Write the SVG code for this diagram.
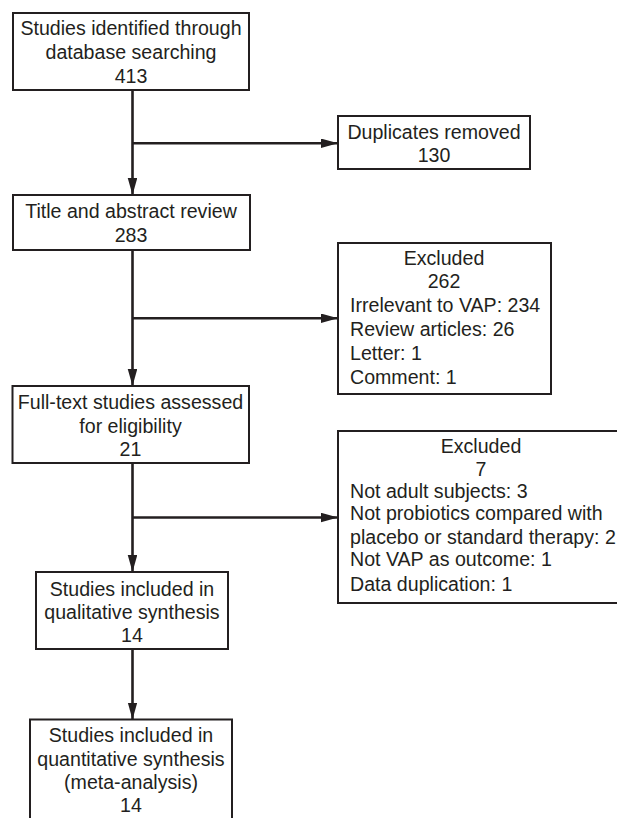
<svg xmlns="http://www.w3.org/2000/svg" width="617" height="818" viewBox="0 0 617 818">
<style>
.box{fill:#fff;stroke:#231f20;stroke-width:2}
.t{font-family:"Liberation Sans",Arial,sans-serif;font-size:19.6px;fill:#231f20}
.c{text-anchor:middle}
.ln{fill:none;stroke:#231f20;stroke-width:2.6}
</style>
<defs>
<marker id="ah" markerUnits="userSpaceOnUse" markerWidth="18" markerHeight="10" refX="17" refY="4.75" orient="auto">
<path d="M0,0 L17,4.75 L0,9.5 z" fill="#231f20"/>
</marker>
</defs>
<rect width="617" height="818" fill="#fff"/>
<g id="connectors">
<line class="ln" x1="132.5" y1="90" x2="132.5" y2="195" marker-end="url(#ah)"/>
<line class="ln" x1="132.5" y1="143.3" x2="338" y2="143.3" marker-end="url(#ah)"/>
<line class="ln" x1="132.5" y1="250" x2="132.5" y2="386" marker-end="url(#ah)"/>
<line class="ln" x1="132.5" y1="318.3" x2="338" y2="318.3" marker-end="url(#ah)"/>
<line class="ln" x1="132.5" y1="463" x2="132.5" y2="572" marker-end="url(#ah)"/>
<line class="ln" x1="132.5" y1="517.5" x2="338" y2="517.5" marker-end="url(#ah)"/>
<line class="ln" x1="132.5" y1="649" x2="132.5" y2="719.5" marker-end="url(#ah)"/>
</g>
<g id="n1">
<rect class="box" x="13" y="13" width="236" height="77"/>
<text class="t c" x="131" y="35">Studies identified through</text>
<text class="t c" x="131" y="59">database searching</text>
<text class="t c" x="131" y="83">413</text>
</g>
<g id="n2">
<rect class="box" x="338" y="116" width="192" height="53"/>
<text class="t c" x="434" y="138.5">Duplicates removed</text>
<text class="t c" x="434" y="161.5">130</text>
</g>
<g id="n3">
<rect class="box" x="13" y="195" width="237" height="55"/>
<text class="t c" x="131" y="218">Title and abstract review</text>
<text class="t c" x="131" y="241.5">283</text>
</g>
<g id="n4">
<rect class="box" x="338" y="243" width="213" height="151"/>
<text class="t c" x="444" y="264.5">Excluded</text>
<text class="t c" x="444" y="288">262</text>
<text class="t" x="350" y="312">Irrelevant to VAP: 234</text>
<text class="t" x="350" y="336">Review articles: 26</text>
<text class="t" x="350" y="360">Letter: 1</text>
<text class="t" x="350" y="383.5">Comment: 1</text>
</g>
<g id="n5">
<rect class="box" x="12.5" y="386" width="236.5" height="77"/>
<text class="t c" x="130.5" y="409">Full-text studies assessed</text>
<text class="t c" x="130.5" y="432.5">for eligibility</text>
<text class="t c" x="130.5" y="456">21</text>
</g>
<g id="n6">
<rect class="box" x="338" y="431" width="290" height="172"/>
<text class="t c" x="481" y="452.5">Excluded</text>
<text class="t c" x="481" y="476">7</text>
<text class="t" x="350" y="497.5">Not adult subjects: 3</text>
<text class="t" x="350" y="520">Not probiotics compared with</text>
<text class="t" x="350" y="543.5">placebo or standard therapy: 2</text>
<text class="t" x="350" y="566">Not VAP as outcome: 1</text>
<text class="t" x="350" y="590.5">Data duplication: 1</text>
</g>
<g id="n7">
<rect class="box" x="36" y="572" width="192" height="77"/>
<text class="t c" x="132" y="595.5">Studies included in</text>
<text class="t c" x="132" y="619">qualitative synthesis</text>
<text class="t c" x="132" y="642">14</text>
</g>
<g id="n8">
<rect class="box" x="30" y="719.5" width="202" height="110"/>
<text class="t c" x="131" y="742">Studies included in</text>
<text class="t c" x="131" y="766">quantitative synthesis</text>
<text class="t c" x="131" y="788.5">(meta-analysis)</text>
<text class="t c" x="131" y="812">14</text>
</g>
</svg>
